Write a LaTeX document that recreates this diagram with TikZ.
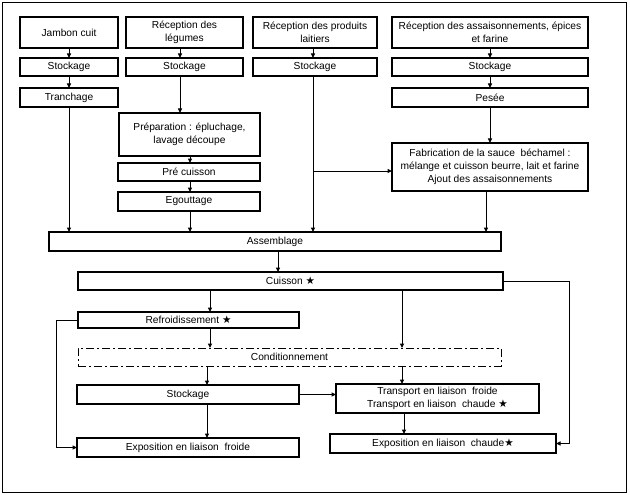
\documentclass[tikz,border=0pt]{standalone}
\usepackage{fontspec}
\setmainfont{Liberation Sans}
\newfontfamily\symfont{DejaVu Sans}
\usetikzlibrary{arrows.meta}
\newcommand{\etoile}{{\symfont\fontsize{10.5}{12}\selectfont ★}}
\tikzset{
  box/.style={draw, line width=1.2pt, inner sep=0pt, outer sep=0pt, anchor=north west, align=center, font=\fontsize{10.2}{12.8}\selectfont},
  dashbox/.style={box, line width=0.9pt, dash pattern=on 8pt off 3pt on 2pt off 3pt},
  arr/.style={line width=1pt, -{Triangle[length=4.5pt,width=4pt]}},
  ln/.style={line width=1pt}
}
\begin{document}
\begin{tikzpicture}[x=1pt,y=-1pt]
\useasboundingbox (0,0) rectangle (630,495);
\draw[line width=1pt] (2.5,2.5) rectangle (626.5,492.5);
% top row
\node[box, minimum width=98pt, minimum height=31pt] (jambon) at (20,17) {Jambon cuit};
\node[box, minimum width=98pt, minimum height=18pt] (st1) at (20,58) {Stockage};
\node[box, minimum width=98pt, minimum height=19pt] (tranch) at (20,88) {Tranchage};
\node[box, minimum width=117pt, minimum height=31pt] (recleg) at (126,17) {Réception des\\légumes};
\node[box, minimum width=117pt, minimum height=18pt] (st2) at (126,58) {Stockage};
\node[box, minimum width=124pt, minimum height=31pt] (reclait) at (253,17) {Réception des produits\\laitiers};
\node[box, minimum width=124pt, minimum height=18pt] (st3) at (253,58) {Stockage};
\node[box, minimum width=196pt, minimum height=31pt] (recass) at (392,17) {Réception des assaisonnements, épices\\et farine};
\node[box, minimum width=196pt, minimum height=18pt] (st4) at (392,58) {Stockage};
\node[box, minimum width=196pt, minimum height=19pt] (pesee) at (392,88) {Pesée};
% middle
\node[box, minimum width=141pt, minimum height=43pt] (prep) at (119,113) {Préparation : épluchage,\\lavage découpe};
\node[box, minimum width=142pt, minimum height=18pt] (precuis) at (118,163) {Pré cuisson};
\node[box, minimum width=142pt, minimum height=19pt] (egout) at (118,192) {Egouttage};
\node[box, minimum width=196pt, minimum height=48pt] (fab) at (392,143) {Fabrication de la sauce\ \ béchamel :\\mélange et cuisson beurre, lait et farine\\Ajout des assaisonnements};
\node[box, minimum width=452pt, minimum height=19pt] (assem) at (49,232) {Assemblage};
\node[box, minimum width=425pt, minimum height=18pt] (cuisson) at (78,272) {Cuisson \etoile};
\node[box, minimum width=221pt, minimum height=16pt] (refroid) at (78,312) {Refroidissement \etoile};
\node[dashbox, minimum width=423pt, minimum height=18pt] (cond) at (78,348) {Conditionnement};
\node[box, minimum width=222pt, minimum height=19pt] (stB) at (77,385) {Stockage};
\node[box, minimum width=203pt, minimum height=29pt] (transp) at (336,384) {Transport en liaison\ \ froide\\Transport en liaison\ \ chaude \etoile};
\node[box, minimum width=222pt, minimum height=19pt] (expof) at (77,438) {Exposition en liaison\ \ froide};
\node[box, minimum width=226pt, minimum height=19pt] (expoc) at (330,434) {Exposition en liaison\ \ chaude\etoile};
% helper x positions
\coordinate (xa) at (180,0);
\coordinate (xb) at (313,0);
\coordinate (xc) at (486,0);
\coordinate (xd) at (190,0);
\coordinate (xe) at (278,0);
\coordinate (xf) at (210,0);
\coordinate (xg) at (402,0);
\coordinate (xh) at (207,0);
\coordinate (xi) at (404,0);
\coordinate (xr) at (569,0);
\coordinate (xl) at (56,0);
\coordinate (yfab) at (0,171);
% connectors
\draw[arr] (jambon) -- (st1);
\draw[arr] (st1) -- (tranch);
\draw[arr] (tranch.south) -- (tranch.south |- assem.north);
\draw[arr] (recleg.south -| xa) -- (st2.north -| xa);
\draw[arr] (st2.south -| xa) -- (prep.north -| xa);
\draw[arr] (prep.south -| xd) -- (precuis.north -| xd);
\draw[arr] (precuis.south -| xd) -- (egout.north -| xd);
\draw[arr] (egout.south -| xd) -- (assem.north -| xd);
\draw[arr] (reclait.south -| xb) -- (st3.north -| xb);
\draw[arr] (st3.south -| xb) -- (assem.north -| xb);
\draw[arr] (xb |- yfab) -- (fab.west |- yfab);
\draw[arr] (recass) -- (st4);
\draw[arr] (st4) -- (pesee);
\draw[arr] (pesee) -- (fab);
\draw[arr] (fab.south -| xc) -- (assem.north -| xc);
\draw[arr] (assem.south -| xe) -- (cuisson.north -| xe);
\draw[arr] (cuisson.south -| xf) -- (refroid.north -| xf);
\draw[arr] (cuisson.south -| xg) -- (cond.north -| xg);
\draw[arr] (cuisson.east) -- (cuisson.east -| xr) -- (xr |- expoc.east) -- (expoc.east);
\draw[arr] (refroid.south -| xf) -- (cond.north -| xf);
\draw[arr] (refroid.west) -- (refroid.west -| xl) -- (xl |- expof.west) -- (expof.west);
\draw[arr] (cond.south -| xh) -- (stB.north -| xh);
\draw[arr] (cond.south -| xg) -- (transp.north -| xg);
\draw[arr] (stB.east) -- (stB.east -| transp.west);
\draw[arr] (stB.south -| xh) -- (expof.north -| xh);
\draw[arr] (transp.south -| xi) -- (expoc.north -| xi);
\end{tikzpicture}
\end{document}
